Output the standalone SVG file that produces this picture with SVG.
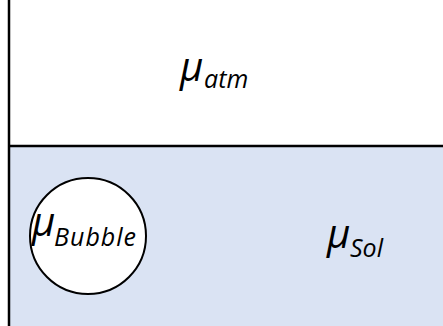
<svg xmlns="http://www.w3.org/2000/svg" width="443" height="326" viewBox="0 0 443 326">
<style>
.mu{font-family:"Open Sans","Noto Sans",sans-serif;font-style:italic;font-size:40px;fill:#000}
.sub{font-family:"Open Sans","Noto Sans",sans-serif;font-style:italic;font-size:25px;fill:#000}
.ln{stroke:#000;stroke-width:2.5;fill:none}
</style>
<rect width="443" height="326" fill="#ffffff"/>
<g id="solution">
<rect x="9" y="146" width="434" height="180" fill="#dae3f3"/>
<text class="mu" x="327" y="248">μ</text>
<text class="sub" x="350" y="257">Sol</text>
</g>
<g id="atmosphere">
<text class="mu" x="180" y="81">μ</text>
<text class="sub" x="204" y="88">atm</text>
</g>
<g id="walls">
<line class="ln" x1="9" y1="0" x2="9" y2="326"/>
<line class="ln" x1="9" y1="146" x2="443" y2="146"/>
</g>
<g id="bubble">
<circle cx="88" cy="236" r="58" fill="#ffffff" stroke="#000" stroke-width="2"/>
<text class="mu" x="32" y="236">μ</text>
<text class="sub" x="54" y="246" textLength="82">Bubble</text>
</g>
</svg>
